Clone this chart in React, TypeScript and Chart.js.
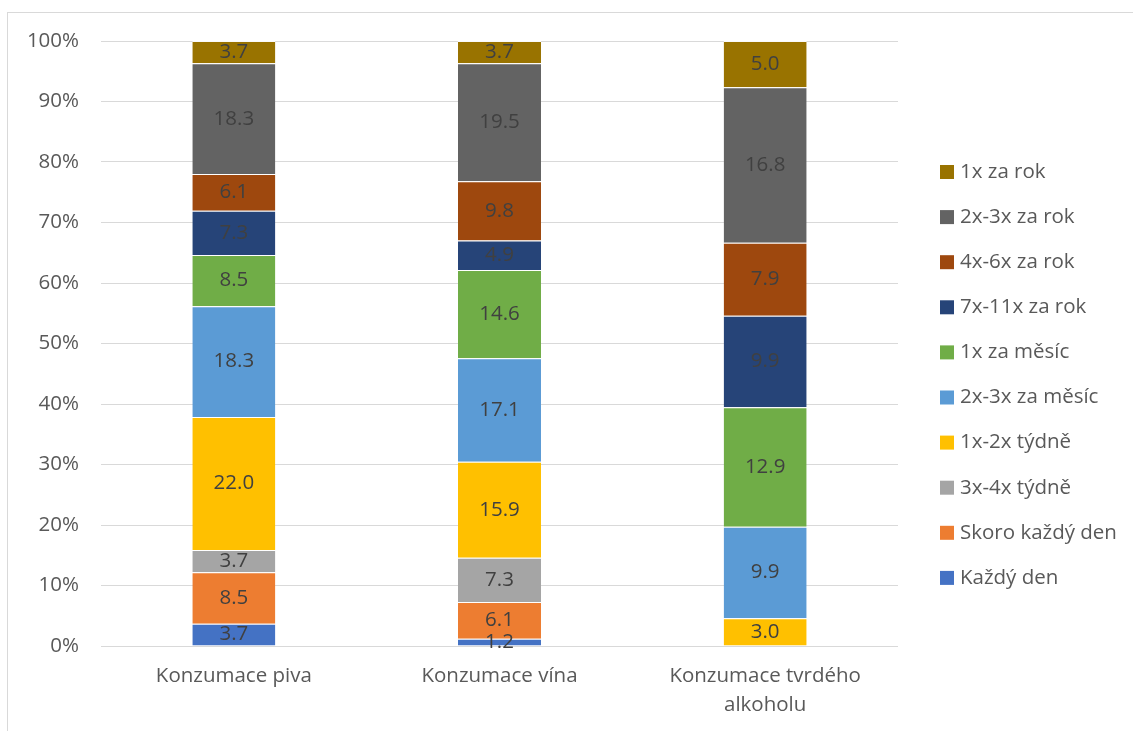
import React, { useEffect, useRef } from "react";
import { Chart, registerables } from "chart.js";

Chart.register(...registerables);

const categories: (string | string[])[] = [
  "Konzumace piva",
  "Konzumace vína",
  ["Konzumace tvrdého", "alkoholu"],
];

const seriesNames = [
  "Každý den",
  "Skoro každý den",
  "3x-4x týdně",
  "1x-2x týdně",
  "2x-3x za měsíc",
  "1x za měsíc",
  "7x-11x za rok",
  "4x-6x za rok",
  "2x-3x za rok",
  "1x za rok",
];

const seriesColors = [
  "#4472C4",
  "#ED7D31",
  "#A5A5A5",
  "#FFC000",
  "#5B9BD5",
  "#70AD47",
  "#264478",
  "#9E480E",
  "#636363",
  "#997300",
];

const kazdyDen = [3.7, 1.2, 0];
const skoroKazdyDen = [8.5, 6.1, 0];
const tydne34 = [3.7, 7.3, 0];
const tydne12 = [22.0, 15.9, 3.0];
const mesic23 = [18.3, 17.1, 9.9];
const mesic1 = [8.5, 14.6, 12.9];
const rok711 = [7.3, 4.9, 9.9];
const rok46 = [6.1, 9.8, 7.9];
const rok23 = [18.3, 19.5, 16.8];
const rok1 = [3.7, 3.7, 5.0];

const seriesValues = [
  kazdyDen,
  skoroKazdyDen,
  tydne34,
  tydne12,
  mesic23,
  mesic1,
  rok711,
  rok46,
  rok23,
  rok1,
];

const FONT = "'Open Sans', 'Noto Sans', sans-serif";
const FSIZE = 20.5;

const totals = categories.map((_, i) =>
  seriesValues.reduce((s, arr) => s + arr[i], 0)
);

const dataLabelPlugin = {
  id: "dataLabels",
  afterDatasetsDraw(chart: any) {
    const ctx = chart.ctx;
    ctx.save();
    ctx.font = `${FSIZE}px ${FONT}`;
    ctx.fillStyle = "#404040";
    ctx.textAlign = "center";
    ctx.textBaseline = "middle";
    chart.data.datasets.forEach((ds: any, di: number) => {
      const meta = chart.getDatasetMeta(di);
      meta.data.forEach((el: any, i: number) => {
        const v = ds.rawValues[i];
        if (!v) return;
        ctx.fillText(v.toFixed(1), el.x, (el.y + el.base) / 2);
      });
    });
    ctx.restore();
  },
};

const framePlugin = {
  id: "frame",
  beforeDraw(chart: any) {
    const ctx = chart.ctx;
    ctx.save();
    ctx.strokeStyle = "#d9d9d9";
    ctx.lineWidth = 1;
    ctx.strokeRect(7.5, 12.5, 3000, 3000);
    ctx.restore();
  },
};

const legendPlugin = {
  id: "customLegend",
  afterDraw(chart: any) {
    const ctx = chart.ctx;
    ctx.save();
    ctx.font = `${FSIZE}px ${FONT}`;
    ctx.textAlign = "left";
    ctx.textBaseline = "middle";
    const n = seriesNames.length;
    for (let k = 0; k < n; k++) {
      const idx = n - 1 - k;
      const top = 165 + 45.1 * k;
      ctx.fillStyle = seriesColors[idx];
      ctx.fillRect(940, top, 14, 14);
      ctx.fillStyle = "#595959";
      ctx.fillText(seriesNames[idx], 960, top + 7);
    }
    ctx.restore();
  },
};

export default function App() {
  const ref = useRef<HTMLCanvasElement | null>(null);

  useEffect(() => {
    if (!ref.current) return;
    const chart = new Chart(ref.current, {
      type: "bar",
      data: {
        labels: categories,
        datasets: seriesNames.map((name, si) => ({
          label: name,
          data: seriesValues[si].map((v, i) => (v / totals[i]) * 100),
          rawValues: seriesValues[si],
          backgroundColor: seriesColors[si],
          borderColor: "rgba(255,255,255,0.85)",
          borderWidth: { top: 1, left: 0, right: 0, bottom: 0 },
          borderSkipped: "start",
          categoryPercentage: 1,
          barPercentage: 0.3124,
        })) as any,
      },
      options: {
        animation: false,
        responsive: false,
        maintainAspectRatio: false,
        layout: { padding: { top: 41, right: 235, bottom: 0, left: 0 } },
        plugins: {
          legend: { display: false },
          tooltip: { enabled: false },
          title: { display: false },
        },
        scales: {
          x: {
            stacked: true,
            grid: { display: false, drawTicks: false },
            border: { display: false },
            ticks: {
              color: "#595959",
              font: { family: FONT, size: FSIZE, lineHeight: 1.4 },
              padding: 16,
              maxRotation: 0,
              autoSkip: false,
            },
            afterFit: (s: any) => {
              s.height = 85;
            },
          },
          y: {
            stacked: true,
            min: 0,
            max: 100,
            grid: { color: "#d9d9d9", lineWidth: 1, drawTicks: false },
            border: { display: false },
            ticks: {
              stepSize: 10,
              color: "#595959",
              font: { family: FONT, size: FSIZE },
              padding: 22,
              callback: (v: any) => `${v}%`,
            },
            afterFit: (s: any) => {
              s.width = 101;
            },
          },
        },
      },
      plugins: [framePlugin, dataLabelPlugin, legendPlugin],
    });
    return () => chart.destroy();
  }, []);

  return (
    <div style={{ position: "absolute", left: 0, top: 0, width: 1133, height: 731 }}>
      <canvas ref={ref} width={1133} height={731} style={{ display: "block" }} />
    </div>
  );
}
